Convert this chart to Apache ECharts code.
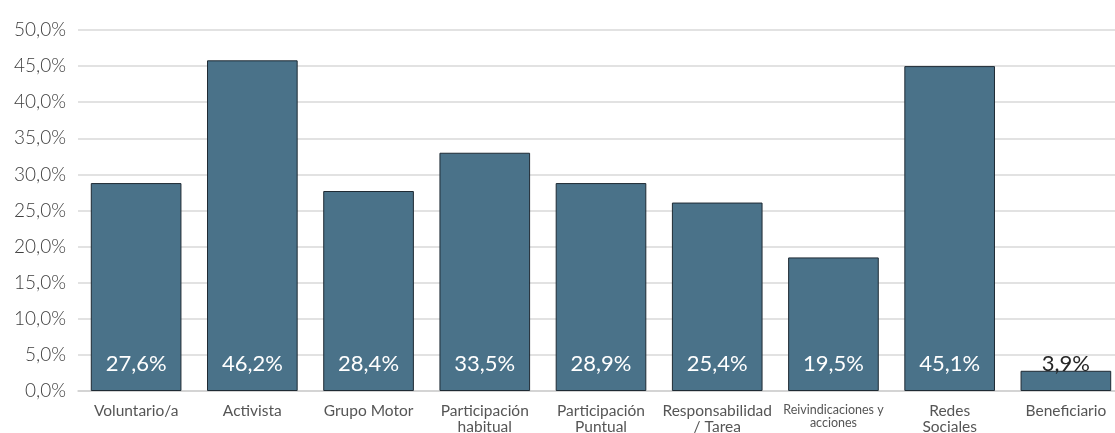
<!DOCTYPE html>
<html>
<head>
<meta charset="utf-8">
<script src="https://cdn.jsdelivr.net/npm/echarts@6/dist/echarts.min.js"></script>
<style>
html,body{margin:0;padding:0;background:#fff;}
#c{width:1115px;height:433px;}
</style>
</head>
<body>
<div id="c"></div>
<script>
var categories = ['Voluntario/a', 'Activista', 'Grupo Motor', 'Participación\nhabitual', 'Participación\nPuntual', 'Responsabilidad\n/ Tarea', 'Reivindicaciones y\nacciones', 'Redes\nSociales', 'Beneficiario'];
var barValues = [28.8, 45.8, 27.7, 33.0, 28.8, 26.1, 18.5, 45.0, 2.8];
var labelTexts = ['27,6%', '46,2%', '28,4%', '33,5%', '28,9%', '25,4%', '19,5%', '45,1%', '3,9%'];
var yTicks = ['0,0%', '5,0%', '10,0%', '15,0%', '20,0%', '25,0%', '30,0%', '35,0%', '40,0%', '45,0%', '50,0%'];

var chart = echarts.init(document.getElementById('c'));
var FONT = 'Lato';
chart.setOption({
  animation: false,
  grid: { left: 78, width: 1046, top: 30, bottom: 42, containLabel: false, outerBoundsMode: 'none' },
  xAxis: {
    type: 'category',
    data: categories,
    axisLine: { show: true, lineStyle: { color: '#d0d0d0', width: 1.5 } },
    axisTick: { show: false },
    axisLabel: {
      interval: 0,
      color: '#555555',
      fontFamily: FONT,
      fontSize: 15.5,
      lineHeight: 16,
      margin: 12,
      rich: { s: { fontSize: 12.5, lineHeight: 13, color: '#555555', fontFamily: FONT } },
      formatter: function (v) {
        if (v.indexOf('Reivindicaciones') === 0) {
          return v.split('\n').map(function (l) { return '{s|' + l + '}'; }).join('\n');
        }
        return v;
      }
    }
  },
  yAxis: {
    type: 'value',
    min: 0, max: 50, interval: 5,
    axisLine: { show: false },
    axisTick: { show: false },
    splitLine: { lineStyle: { color: '#d9d9d9', width: 1.5 } },
    axisLabel: {
      color: '#404040',
      fontFamily: FONT,
      fontSize: 19,
      fontWeight: 300,
      margin: 12,
      formatter: function (v) { return yTicks[Math.round(v / 5)]; }
    }
  },
  series: [{
    type: 'bar',
    data: barValues.map(function (v, i) {
      return {
        value: v,
        label: { color: i === barValues.length - 1 ? '#262626' : '#ffffff' }
      };
    }),
    barCategoryGap: '22%',
    itemStyle: { color: '#4a7289', borderColor: '#1f2b34', borderWidth: 1 },
    label: {
      show: true,
      position: 'insideBottom',
      distance: 16,
      fontFamily: FONT,
      fontSize: 22,
      formatter: function (p) { return labelTexts[p.dataIndex]; }
    }
  }]
});
</script>
</body>
</html>
